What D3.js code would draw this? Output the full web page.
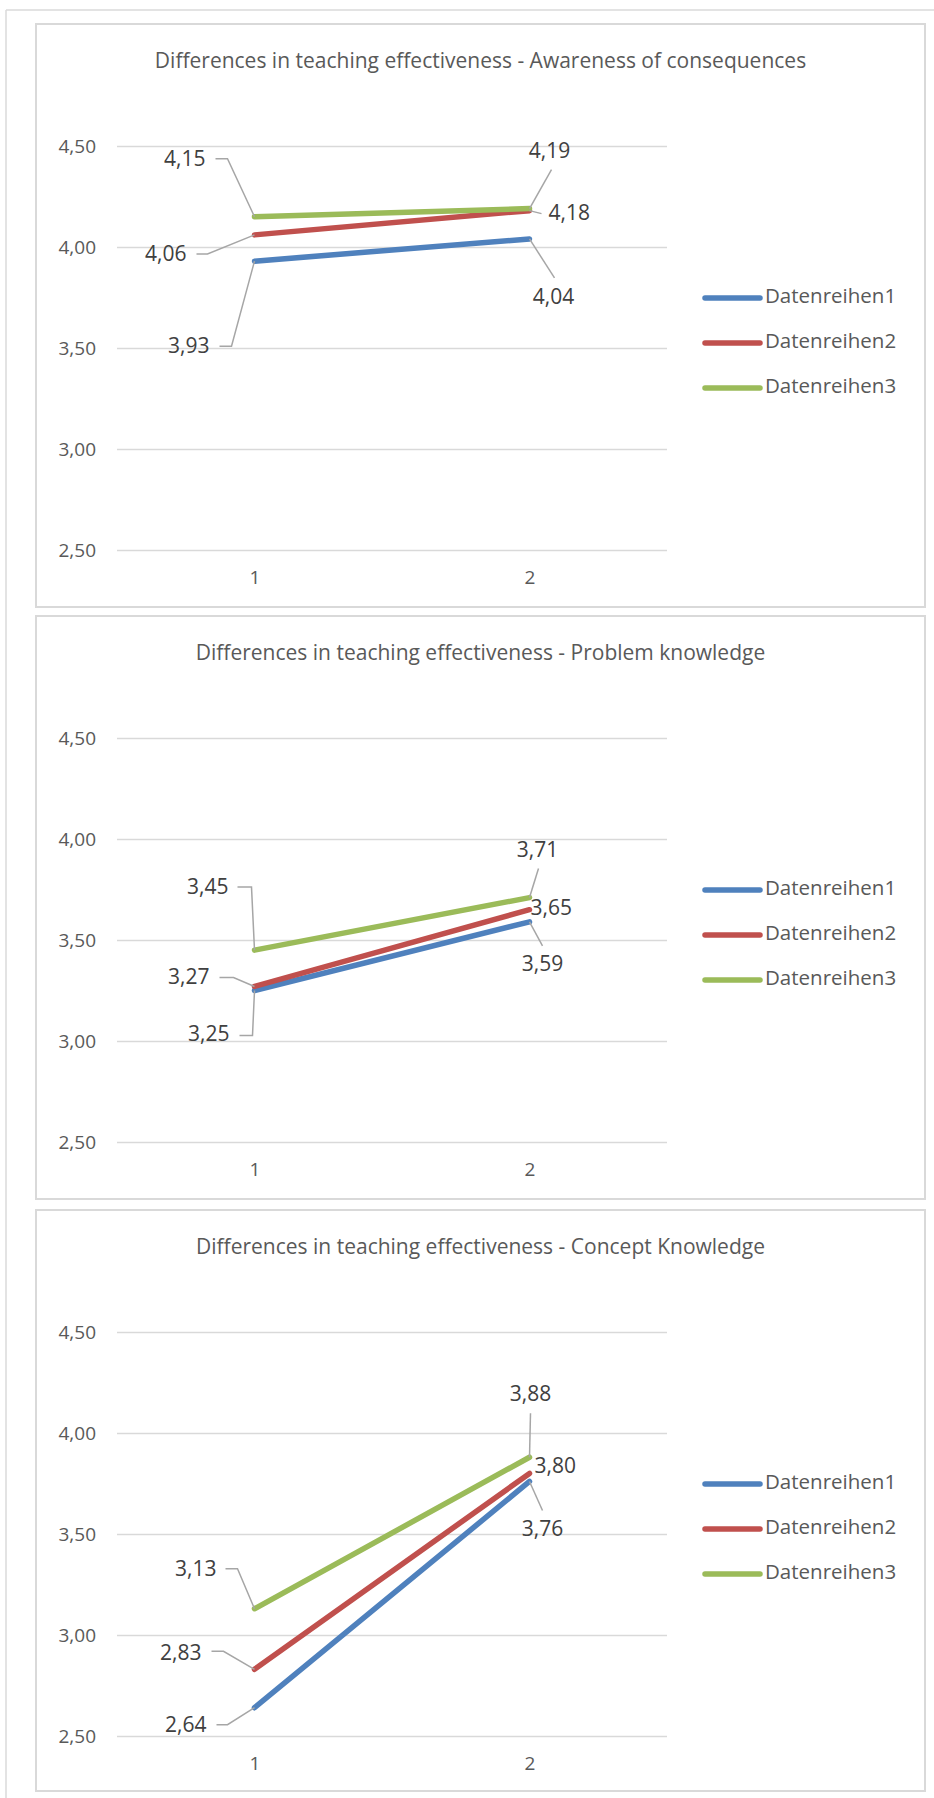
<!DOCTYPE html>
<html>
<head>
<meta charset="utf-8">
<script src="https://d3js.org/d3.v7.min.js"></script>
<style>
  html, body { margin: 0; padding: 0; background: #fff; }
  svg { display: block; }
  text { font-family: "Open Sans", "Noto Sans", sans-serif; }
</style>
</head>
<body>
<div id="chart"></div>
<script>
// Werte
const categories = ['1', '2'];
const yTicks = [2.5, 3.0, 3.5, 4.0, 4.5];
const seriesNames = ['Datenreihen1', 'Datenreihen2', 'Datenreihen3'];
const seriesColors = ['#4f81bd', '#c0504d', '#9bbb59'];

const titles = [
  'Differences in teaching effectiveness - Awareness of consequences',
  'Differences in teaching effectiveness - Problem knowledge',
  'Differences in teaching effectiveness - Concept Knowledge'
];

// je Datenreihe: [Wert 1, Wert 2]
const awarenessValues = [[3.93, 4.04], [4.06, 4.18], [4.15, 4.19]];
const problemValues   = [[3.25, 3.59], [3.27, 3.65], [3.45, 3.71]];
const conceptValues   = [[2.64, 3.76], [2.83, 3.80], [3.13, 3.88]];
const allValues = [awarenessValues, problemValues, conceptValues];

// Lage der Datenbeschriftungen relativ zum Punkt (dx, dy, Ausrichtung, Führungslinie)
const labelLayout = [
  [
    [{ dx: -45, dy: 86, a: 'end', lead: [[-35, 85], [-23, 85]] }, { dx: 24, dy: 59, a: 'middle', lead: [[25, 39]] }],
    [{ dx: -68, dy: 20, a: 'end', lead: [[-58, 19], [-47, 19]] }, { dx: 19, dy: 4, a: 'start', lead: [[12, 3]] }],
    [{ dx: -49, dy: -56, a: 'end', lead: [[-39, -58], [-27, -58]] }, { dx: 20, dy: -56, a: 'middle', lead: [[22, -39]] }]
  ],
  [
    [{ dx: -25, dy: 45, a: 'end', lead: [[-15, 45], [-2, 45]] }, { dx: 13, dy: 44, a: 'middle', lead: [[13, 24]] }],
    [{ dx: -45, dy: -8, a: 'end', lead: [[-35, -9], [-21, -9]] }, { dx: 1, dy: 0, a: 'start', lead: null }],
    [{ dx: -26, dy: -62, a: 'end', lead: [[-17, -63], [-3, -63]] }, { dx: 8, dy: -46, a: 'middle', lead: [[9, -29]] }]
  ],
  [
    [{ dx: -48, dy: 19, a: 'end', lead: [[-38, 17], [-27, 17]] }, { dx: 13, dy: 49, a: 'middle', lead: [[13, 29]] }],
    [{ dx: -53, dy: -15, a: 'end', lead: [[-43, -18], [-31, -18]] }, { dx: 5, dy: -6, a: 'start', lead: null }],
    [{ dx: -38, dy: -38, a: 'end', lead: [[-29, -40], [-17, -40]] }, { dx: 1, dy: -62, a: 'middle', lead: [[1, -44]] }]
  ]
];

// Layout
const width = 934, height = 1798;
const boxLeft = 36, boxRight = 925;
const boxTops = [24, 616, 1210];
const boxHeights = [583, 583, 581];
const plotOffset = 122, plotHeight = 404;
const plotLeft = 117, plotRight = 667;

const locale = d3.formatLocale({ decimal: ',', thousands: '.', grouping: [3], currency: ['', '€'] });
const fmt = locale.format('.2f');

const svg = d3.select('#chart').append('svg')
  .attr('width', width)
  .attr('height', height);

// äußerer Rahmen
svg.append('line').attr('x1', 6).attr('x2', width).attr('y1', 10).attr('y2', 10)
  .attr('stroke', '#dadada').attr('stroke-width', 1.5);
svg.append('line').attr('x1', 6).attr('x2', 6).attr('y1', 10).attr('y2', height)
  .attr('stroke', '#dadada').attr('stroke-width', 1.5);

const x = d3.scalePoint().domain(categories).range([plotLeft, plotRight]).padding(0.5);

allValues.forEach((values, c) => {
  const top = boxTops[c];
  const g = svg.append('g');

  g.append('rect')
    .attr('x', boxLeft).attr('y', top)
    .attr('width', boxRight - boxLeft).attr('height', boxHeights[c])
    .attr('fill', '#fff').attr('stroke', '#d9d9d9').attr('stroke-width', 2);

  const pTop = top + plotOffset;
  const y = d3.scaleLinear().domain([2.5, 4.5]).range([pTop + plotHeight, pTop]);

  g.append('text')
    .attr('x', (boxLeft + boxRight) / 2)
    .attr('y', pTop - 84)
    .attr('text-anchor', 'middle')
    .attr('dominant-baseline', 'middle')
    .attr('font-size', 21)
    .attr('fill', '#595959')
    .text(titles[c]);

  // y-Achse mit Gitterlinien
  const yAxis = g.append('g')
    .attr('transform', `translate(${plotLeft},0)`)
    .call(d3.axisLeft(y).tickValues(yTicks).tickFormat(fmt)
      .tickSize(-(plotRight - plotLeft)).tickPadding(21));
  yAxis.select('.domain').remove();
  yAxis.selectAll('.tick line').attr('stroke', '#d9d9d9').attr('stroke-width', 1.5);
  yAxis.selectAll('.tick text')
    .attr('font-size', 19).attr('fill', '#595959')
    .attr('font-family', '"Open Sans", sans-serif');

  // x-Achse
  const xAxis = g.append('g')
    .attr('transform', `translate(0,${pTop + plotHeight})`)
    .call(d3.axisBottom(x).tickSize(0).tickPadding(21));
  xAxis.select('.domain').remove();
  xAxis.selectAll('.tick text')
    .attr('font-size', 19).attr('fill', '#595959')
    .attr('font-family', '"Open Sans", sans-serif');

  const line = d3.line()
    .x((d, i) => x(categories[i]))
    .y(d => y(d));

  g.append('g').selectAll('path')
    .data(values)
    .join('path')
    .attr('d', d => line(d))
    .attr('fill', 'none')
    .attr('stroke', (d, i) => seriesColors[i])
    .attr('stroke-width', 5.5)
    .attr('stroke-linecap', 'round');

  // Datenbeschriftungen mit Führungslinien
  const labels = g.append('g');
  values.forEach((vals, s) => {
    vals.forEach((v, i) => {
      const px = x(categories[i]);
      const py = y(v);
      const L = labelLayout[c][s][i];
      if (L.lead) {
        const pts = L.lead.map(p => [px + p[0], py + p[1]]).concat([[px, py]]);
        labels.append('path')
          .attr('d', d3.line()(pts))
          .attr('fill', 'none')
          .attr('stroke', '#a6a6a6')
          .attr('stroke-width', 1.5);
      }
      labels.append('text')
        .attr('x', px + L.dx)
        .attr('y', py + L.dy)
        .attr('text-anchor', L.a)
        .attr('dominant-baseline', 'middle')
        .attr('font-size', 21)
        .attr('fill', '#404040')
        .text(fmt(v));
    });
  });

  // Legende
  const legend = g.append('g');
  seriesNames.forEach((name, s) => {
    const ly = pTop + 152 + s * 45;
    legend.append('line')
      .attr('x1', 705).attr('x2', 760).attr('y1', ly).attr('y2', ly)
      .attr('stroke', seriesColors[s]).attr('stroke-width', 5.5)
      .attr('stroke-linecap', 'round');
    legend.append('text')
      .attr('x', 765).attr('y', ly)
      .attr('dominant-baseline', 'middle')
      .attr('font-size', 20.5)
      .attr('fill', '#595959')
      .text(name);
  });
});
</script>
</body>
</html>
